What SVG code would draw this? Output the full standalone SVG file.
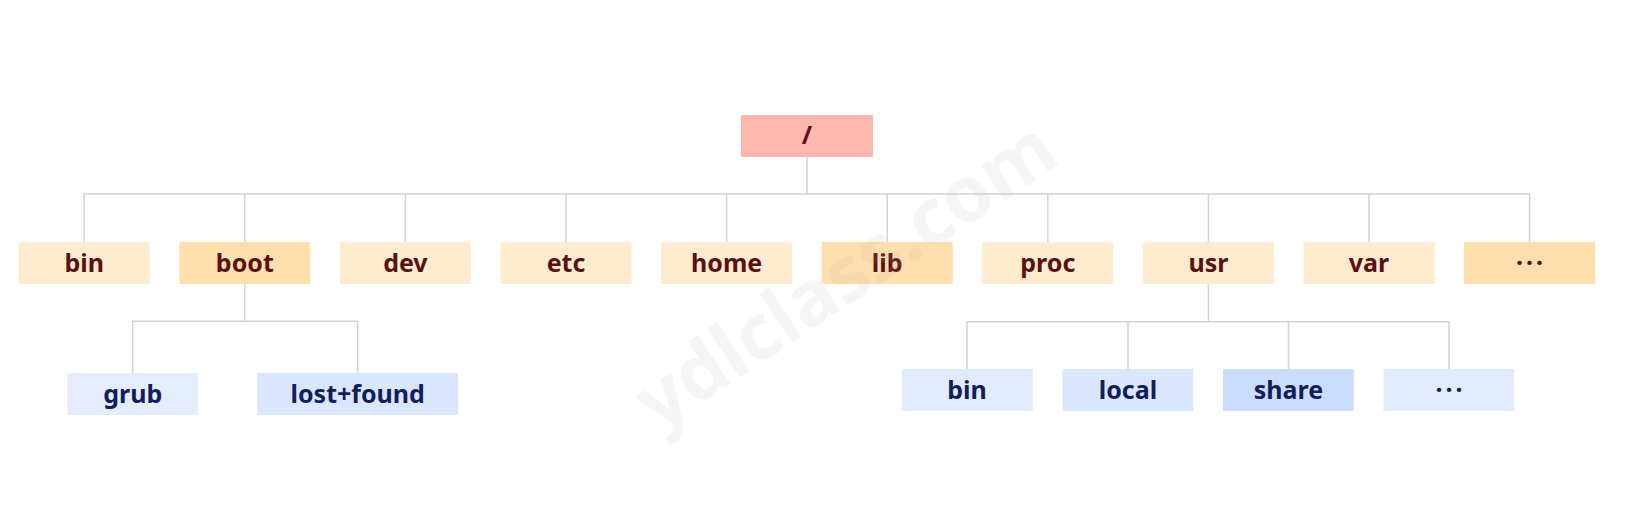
<svg xmlns="http://www.w3.org/2000/svg" width="1627" height="505" viewBox="0 0 1627 505">
<style>
.l1{fill:#FFEBD0}
.l1d{fill:#FFDFAE}
.t1{font-family:"Noto Sans","Open Sans",sans-serif;font-weight:bold;font-size:25px;fill:#5A1111;text-anchor:middle}
.t2{font-family:"Noto Sans","Open Sans",sans-serif;font-weight:bold;font-size:25px;fill:#101F5C;text-anchor:middle}
.dots{letter-spacing:3px}
.conn{stroke:#D4D4D4;stroke-width:1.5;fill:none}
</style>
<rect width="1627" height="505" fill="#FFFFFF"/>
<g id="connectors" class="conn">
<path d="M807,157 V194 M84.2,242 V194 H1529.6 V242 M244.8,194 V242 M405.4,194 V242 M566,194 V242 M726.6,194 V242 M887.2,194 V242 M1047.8,194 V242 M1208.4,194 V242 M1369,194 V242"/>
<path d="M244.8,284 V321.3 M132.7,373 V321.3 H357.7 V373"/>
<path d="M1208.4,284 V321.7 M967,369 V321.7 H1449 V369 M1128,321.7 V369 M1288.5,321.7 V369"/>
</g>
<g id="root"><rect x="741" y="115" width="132" height="42" fill="#FFB8B0"/><text class="t1" x="807" y="144">/</text></g>
<g id="bin"><rect class="l1" x="18.7" y="242" width="131" height="42"/><text class="t1" x="84.2" y="271.5">bin</text></g>
<g id="boot"><rect class="l1d" x="179.3" y="242" width="131" height="42"/><text class="t1" x="244.8" y="271.5">boot</text></g>
<g id="dev"><rect class="l1" x="339.9" y="242" width="131" height="42"/><text class="t1" x="405.4" y="271.5">dev</text></g>
<g id="etc"><rect class="l1" x="500.5" y="242" width="131" height="42"/><text class="t1" x="566" y="271.5">etc</text></g>
<g id="home"><rect class="l1" x="661.1" y="242" width="131" height="42"/><text class="t1" x="726.6" y="271.5">home</text></g>
<g id="lib"><rect class="l1d" x="821.7" y="242" width="131" height="42"/><text class="t1" x="887.2" y="271.5">lib</text></g>
<g id="proc"><rect class="l1" x="982.3" y="242" width="131" height="42"/><text class="t1" x="1047.8" y="271.5">proc</text></g>
<g id="usr"><rect class="l1" x="1142.9" y="242" width="131" height="42"/><text class="t1" x="1208.4" y="271.5">usr</text></g>
<g id="var"><rect class="l1" x="1303.5" y="242" width="131" height="42"/><text class="t1" x="1369" y="271.5">var</text></g>
<g id="more1"><rect class="l1d" x="1464.1" y="242" width="131" height="42"/><text class="t1 dots" x="1531.1" y="271.5">···</text></g>
<g id="grub"><rect x="67.3" y="373" width="130.7" height="42" fill="#E5EDFD"/><text class="t2" x="132.7" y="402.5">grub</text></g>
<g id="lostfound"><rect x="257.3" y="373" width="200.7" height="42" fill="#DAE6FD"/><text class="t2" x="357.7" y="402.5">lost+found</text></g>
<g id="usr-bin"><rect x="902" y="369" width="130.7" height="42" fill="#E1EBFD"/><text class="t2" x="967" y="398.5">bin</text></g>
<g id="local"><rect x="1062.5" y="369" width="130.7" height="42" fill="#DAE6FD"/><text class="t2" x="1128" y="398.5">local</text></g>
<g id="share"><rect x="1223" y="369" width="130.7" height="42" fill="#CCDCFD"/><text class="t2" x="1288.5" y="398.5">share</text></g>
<g id="more2"><rect x="1383.5" y="369" width="130.7" height="42" fill="#E3ECFD"/><text class="t2 dots" x="1450.5" y="398.5">···</text></g>
<text x="0" y="0" transform="translate(658,432) rotate(-33.7)" font-family="Noto Sans,Open Sans,sans-serif" font-weight="bold" font-size="77" fill="#B0B0B0" fill-opacity="0.13">ydlclass.com</text>
</svg>
